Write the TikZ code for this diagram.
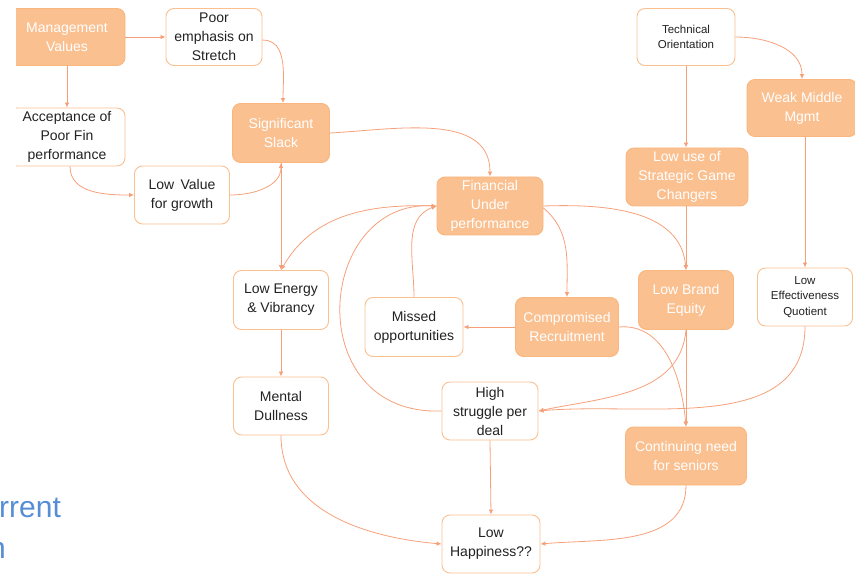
\documentclass[tikz,border=0pt]{standalone}
\usepackage{fontspec}
\setmainfont{Liberation Sans}
\usetikzlibrary{arrows.meta}
\definecolor{fillc}{HTML}{FAC090}
\definecolor{fillbd}{HTML}{F9B67E}
\definecolor{bordc}{HTML}{FAC090}
\definecolor{arrc}{HTML}{F6A07A}
\definecolor{txtc}{HTML}{222222}
\definecolor{bluec}{HTML}{558ED5}
\newcommand{\mainsz}{\fontsize{14}{19}\selectfont}
\newcommand{\smallsz}{\fontsize{11.5}{15.5}\selectfont}
\tikzset{
  wbox/.style={draw=bordc, line width=0.9pt, rounded corners=8pt, fill=white,
    text=txtc, align=center, font=\mainsz, inner sep=1pt},
  obox/.style={wbox, fill=fillc, draw=fillbd, text=white},
  arr/.style={draw=arrc, line width=0.8pt, -{Latex[length=5pt,width=4.5pt]}},
  plain/.style={draw=arrc, line width=0.8pt},
  sz/.style 2 args={minimum width=#1pt, minimum height=#2pt}
}
\begin{document}
\begin{tikzpicture}[x=1pt,y=-1pt]
\useasboundingbox (0,0) rectangle (855,575);
\begin{scope}
\clip (16,0) rectangle (860,300);
\node[obox, sz={116}{57}] (mv) at (67,37) {Management\\Values};
\node[wbox, sz={116}{58}] (acc) at (67,137) {Acceptance of\\Poor Fin\\performance};
\end{scope}
\node[wbox, sz={96}{57}] (poor) at (214,37) {Poor\\emphasis on\\Stretch};
\node[wbox, sz={95}{58}] (lowval) at (182,195) {Low\, Value\\for growth};
\node[obox, sz={97}{59}] (slack) at (281,133) {Significant\\Slack};
\node[obox, sz={106}{58}] (fin) at (490,206) {Financial\\Under\\performance};
\node[wbox, sz={98}{57}, font=\smallsz] (tech) at (686,37) {Technical\\Orientation};
\node[obox, sz={110}{57}] (weak) at (802,108) {Weak Middle\\Mgmt};
\node[obox, sz={122}{58}] (lowuse) at (687,177) {Low use of\\Strategic Game\\Changers};
\node[obox, sz={95}{59}] (lbe) at (686,300) {Low Brand\\Equity};
\node[wbox, sz={95}{58}, font=\smallsz] (leq) at (805,297) {Low\\Effectiveness\\Quotient};
\node[wbox, sz={95}{59}] (le) at (281,300) {Low Energy\\\&\ Vibrancy};
\node[wbox, sz={98}{59}] (missed) at (414,327) {Missed\\opportunities};
\node[obox, sz={103}{59}] (comp) at (567,327) {Compromised\\Recruitment};
\node[wbox, sz={95}{58}] (md) at (281,406) {Mental\\Dullness};
\node[wbox, sz={96}{58}] (hs) at (490,411) {High\\struggle per\\deal};
\node[obox, sz={121}{58}] (cont) at (686,456) {Continuing need\\for seniors};
\node[wbox, sz={98}{58}] (lh) at (491,544) {Low\\Happiness??};
% partial title text
\node[anchor=base west, inner sep=0pt, text=bluec, font=\fontsize{30}{36}\selectfont] (t1) at (-1,517) {rrent};
\node[anchor=base east, inner sep=0pt, text=bluec, font=\fontsize{30}{36}\selectfont] (t2) at (6,558) {n};
% connectors
\draw[arr] (mv.east) -- (poor.west);
\draw[arr] (mv.south) -- (acc.north);
\draw[arr] ([xshift=3pt]acc.south) to[out=-90,in=180] (lowval.west);
\draw[arr] (lowval.east) to[out=0,in=-90] (slack.south);
\draw[arr] ([yshift=-3pt]poor.east) to[out=0,in=90] ([xshift=2pt]slack.north);
\draw[arr] (slack.east) to[out=3,in=90] (fin.north);
\draw[arr] (slack.south) -- (le.north);
\draw[arr] (fin.west) to[out=178,in=60] (le.north);
\draw[arr] (missed.north) to[out=90,in=200] (fin.west);
\draw[arr] (hs.west) .. controls (300,416) and (315,200) .. (fin.west);
\draw[arr] ([yshift=-2pt]fin.east) to[out=-40,in=90] (comp.north);
\draw[arr] (fin.east) to[out=2,in=95] (lbe.north);
\draw[arr] (tech.south) -- (tech.south |- lowuse.north);
\draw[arr] (tech.east) to[out=0,in=90] (weak.north);
\draw[arr] (weak.south -| leq.north) -- (leq.north);
\draw[arr] (lowuse.south -| lbe.north) -- (lbe.north);
\draw[arr] (comp.west) -- (missed.east);
\draw[arr] (comp.east) to[out=5,in=95] (cont.north);
\draw[arr] (lbe.south) -- (cont.north);
\draw[arr] (lbe.south) to[out=-95,in=12] (hs.east);
\draw[arr] (leq.south) to[out=-90,in=5] (hs.east);
\draw[arr] (hs.south) -- (lh.north);
\draw[arr] (md.south) to[out=-90,in=175] (lh.west);
\draw[arr] (cont.south) to[out=-90,in=5] (lh.east);
\draw[arr] (le.south) -- (md.north);
\end{tikzpicture}
\end{document}
